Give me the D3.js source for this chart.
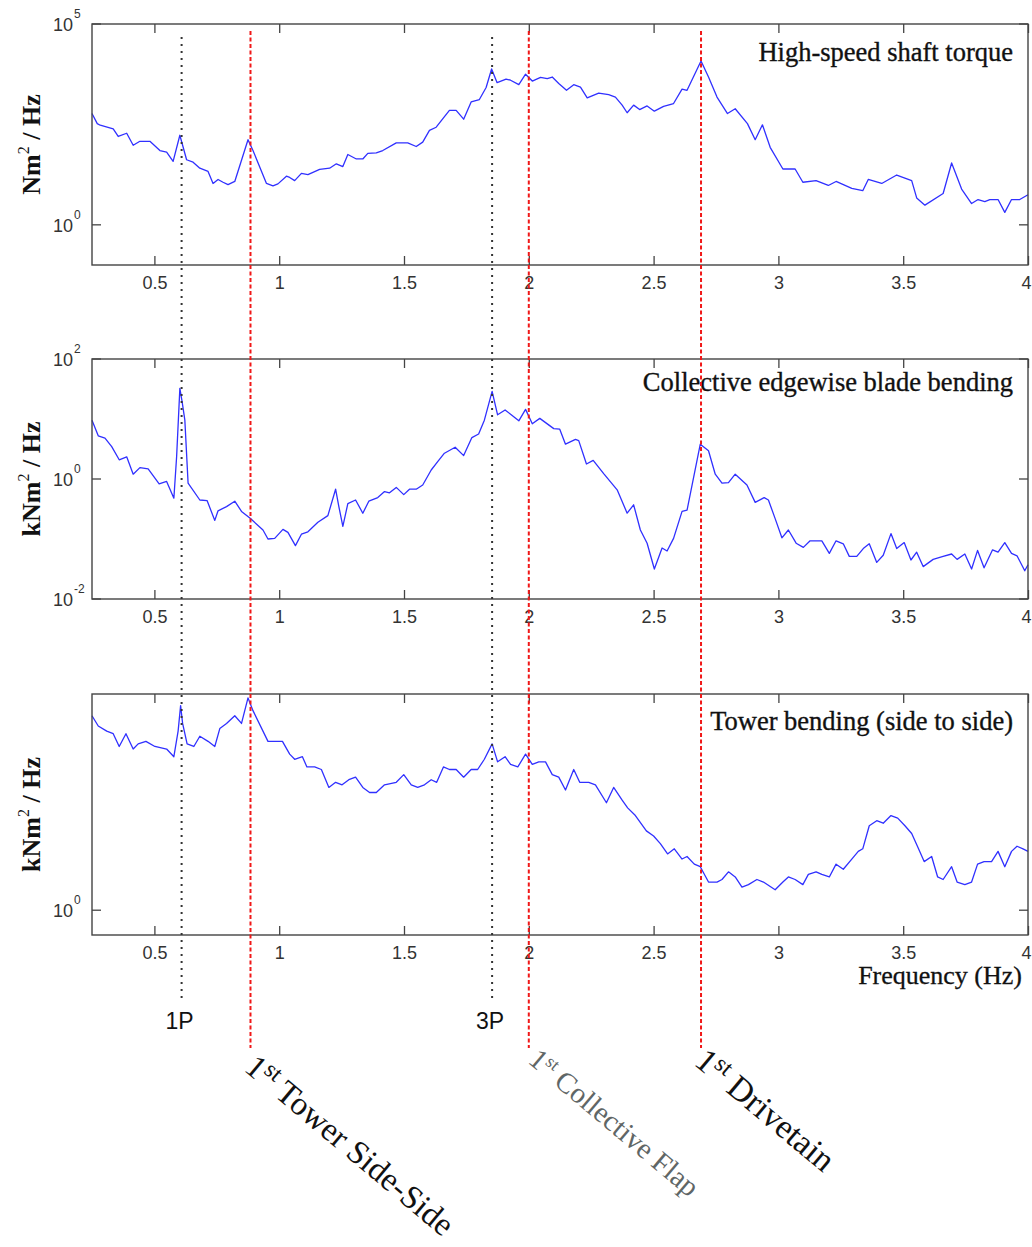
<!DOCTYPE html>
<html>
<head>
<meta charset="utf-8">
<script src="https://cdn.jsdelivr.net/npm/d3@7"></script>
<style>
  html, body { margin: 0; padding: 0; background: #fff; }
  svg { display: block; }
</style>
</head>
<body>
<svg id="chart" width="1032" height="1247"></svg>
<script>
// ---------- DATA ----------
// Panel 1: High-speed shaft torque, PSD (Nm^2/Hz), stored as log10 exponents
const torqueFreq = [0.25,0.271,0.283,0.335,0.355,0.389,0.415,0.442,0.482,0.522,0.549,0.575,0.602,0.629,0.655,0.682,0.715,0.735,0.755,0.775,0.795,0.822,0.875,0.895,0.949,0.975,0.995,1.029,1.042,1.062,1.089,1.115,1.162,1.202,1.229,1.255,1.275,1.309,1.335,1.355,1.389,1.415,1.469,1.515,1.549,1.575,1.602,1.629,1.655,1.682,1.709,1.739,1.769,1.802,1.829,1.851,1.873,1.909,1.927,1.96,1.987,2.014,2.047,2.074,2.094,2.12,2.151,2.18,2.207,2.234,2.28,2.32,2.347,2.374,2.394,2.42,2.444,2.474,2.503,2.54,2.58,2.614,2.634,2.69,2.72,2.754,2.796,2.827,2.876,2.907,2.936,2.967,3.018,3.067,3.098,3.151,3.2,3.231,3.294,3.338,3.36,3.414,3.474,3.534,3.554,3.587,3.66,3.694,3.734,3.774,3.8,3.827,3.847,3.88,3.907,3.934,3.967,4.0];
const torqueLog10 = [2.77,2.52,2.48,2.39,2.2,2.28,1.98,2.08,2.08,1.85,1.81,1.58,2.23,1.62,1.56,1.41,1.33,1.03,1.13,1.06,1.0,1.08,2.12,1.85,1.03,0.97,1.02,1.21,1.18,1.1,1.28,1.25,1.38,1.41,1.52,1.45,1.75,1.64,1.64,1.78,1.79,1.85,2.04,2.04,1.95,2.06,2.35,2.43,2.64,2.85,2.85,2.63,3.06,3.12,3.42,3.88,3.54,3.63,3.6,3.49,3.75,3.58,3.67,3.64,3.68,3.52,3.35,3.49,3.43,3.16,3.28,3.24,3.18,2.98,2.79,2.98,2.87,2.96,2.83,2.95,3.02,3.38,3.35,4.08,3.68,3.18,2.77,2.89,2.52,2.12,2.49,1.93,1.39,1.39,1.06,1.1,0.98,1.08,0.91,0.85,1.13,1.03,1.24,1.1,0.67,0.49,0.78,1.54,0.89,0.53,0.63,0.58,0.63,0.63,0.31,0.63,0.63,0.75];

// Panel 2: Collective edgewise blade bending (kNm^2/Hz), log10 exponents
const edgeFreq = [0.25,0.275,0.302,0.329,0.359,0.389,0.415,0.442,0.475,0.519,0.549,0.578,0.589,0.602,0.611,0.622,0.635,0.682,0.711,0.742,0.755,0.789,0.822,0.849,0.885,0.935,0.955,0.982,1.015,1.035,1.065,1.089,1.115,1.155,1.195,1.226,1.239,1.255,1.275,1.306,1.335,1.359,1.395,1.422,1.442,1.469,1.499,1.522,1.549,1.575,1.609,1.635,1.662,1.705,1.739,1.772,1.799,1.822,1.853,1.875,1.905,1.927,1.96,1.987,2.014,2.044,2.1,2.124,2.147,2.187,2.2,2.231,2.258,2.3,2.354,2.394,2.42,2.447,2.474,2.503,2.534,2.554,2.58,2.614,2.634,2.687,2.72,2.747,2.774,2.8,2.827,2.874,2.907,2.943,2.96,2.987,3.014,3.04,3.071,3.1,3.127,3.174,3.204,3.231,3.26,3.284,3.314,3.34,3.364,3.394,3.42,3.451,3.474,3.504,3.531,3.554,3.58,3.62,3.66,3.694,3.716,3.747,3.774,3.798,3.824,3.858,3.88,3.907,3.934,3.956,3.987,4.0];
const edgeLog10 = [0.98,0.72,0.68,0.54,0.32,0.37,0.08,0.19,0.17,-0.08,-0.04,-0.32,0.37,1.51,1.29,0.98,-0.07,-0.35,-0.36,-0.69,-0.53,-0.46,-0.37,-0.54,-0.66,-0.85,-1.0,-0.99,-0.84,-0.89,-1.11,-0.92,-0.88,-0.72,-0.61,-0.17,-0.46,-0.79,-0.41,-0.35,-0.57,-0.37,-0.31,-0.21,-0.23,-0.14,-0.26,-0.17,-0.17,-0.1,0.15,0.29,0.43,0.53,0.39,0.69,0.75,0.98,1.46,1.07,1.15,1.08,0.97,1.16,0.92,1.01,0.84,0.83,0.58,0.66,0.64,0.25,0.31,0.09,-0.18,-0.57,-0.43,-0.85,-1.07,-1.5,-1.15,-1.2,-0.99,-0.54,-0.52,0.58,0.47,0.08,-0.07,-0.06,0.08,-0.1,-0.39,-0.31,-0.35,-0.66,-0.98,-0.85,-1.07,-1.14,-1.03,-1.03,-1.24,-1.03,-1.08,-1.29,-1.29,-1.16,-1.08,-1.39,-1.27,-0.91,-1.16,-1.06,-1.35,-1.22,-1.46,-1.34,-1.29,-1.25,-1.34,-1.25,-1.5,-1.19,-1.48,-1.18,-1.22,-1.06,-1.24,-1.28,-1.53,-1.43];

// Panel 3: Tower bending side to side (kNm^2/Hz), log10 exponents
const towerFreq = [0.25,0.275,0.309,0.335,0.359,0.386,0.415,0.435,0.466,0.502,0.549,0.578,0.595,0.605,0.613,0.631,0.658,0.682,0.715,0.742,0.762,0.789,0.822,0.849,0.875,0.895,0.955,0.989,1.013,1.042,1.062,1.093,1.111,1.142,1.169,1.199,1.226,1.252,1.279,1.306,1.335,1.362,1.389,1.422,1.469,1.499,1.529,1.555,1.582,1.609,1.631,1.658,1.682,1.709,1.739,1.769,1.795,1.822,1.853,1.875,1.905,1.927,1.956,1.987,2.014,2.04,2.067,2.094,2.12,2.147,2.18,2.204,2.24,2.267,2.311,2.34,2.374,2.396,2.427,2.471,2.5,2.527,2.556,2.583,2.614,2.634,2.663,2.687,2.72,2.754,2.774,2.8,2.827,2.854,2.88,2.914,2.94,2.987,3.018,3.04,3.067,3.098,3.12,3.151,3.174,3.204,3.231,3.26,3.294,3.32,3.338,3.364,3.394,3.42,3.451,3.478,3.507,3.534,3.557,3.584,3.614,3.638,3.66,3.694,3.716,3.747,3.774,3.798,3.824,3.854,3.88,3.907,3.934,3.956,3.98,4.0];
const towerLog10 = [0.76,0.72,0.7,0.69,0.64,0.69,0.63,0.65,0.66,0.64,0.63,0.6,0.7,0.8,0.73,0.65,0.64,0.68,0.66,0.64,0.71,0.73,0.76,0.73,0.83,0.78,0.66,0.66,0.66,0.61,0.59,0.6,0.56,0.56,0.55,0.48,0.5,0.49,0.51,0.52,0.48,0.46,0.46,0.49,0.5,0.53,0.49,0.48,0.49,0.51,0.5,0.56,0.55,0.55,0.52,0.55,0.55,0.59,0.65,0.58,0.6,0.57,0.56,0.61,0.57,0.58,0.58,0.53,0.52,0.47,0.55,0.5,0.5,0.49,0.42,0.48,0.43,0.4,0.37,0.31,0.29,0.26,0.22,0.24,0.2,0.21,0.18,0.17,0.11,0.11,0.12,0.15,0.13,0.09,0.1,0.12,0.11,0.08,0.11,0.13,0.12,0.1,0.14,0.15,0.14,0.13,0.18,0.16,0.2,0.23,0.24,0.33,0.35,0.34,0.37,0.36,0.33,0.3,0.25,0.19,0.21,0.13,0.12,0.17,0.11,0.1,0.11,0.18,0.19,0.19,0.23,0.17,0.23,0.25,0.24,0.23];

const xTicks = [0.5, 1, 1.5, 2, 2.5, 3, 3.5, 4];
const panelTitles = ["High-speed shaft torque", "Collective edgewise blade bending", "Tower bending (side to side)"];
const yUnitPrefix = ["Nm", "kNm", "kNm"];
const yDomains = [[1e-1, 1e5], [1e-2, 1e2], [0.8, 7]];
const yTickExponents = [[5, 0], [2, 0, -2], [0]];

// Reference frequencies (Hz)
const rotorLines = [{f: 0.609, label: "1P"}, {f: 1.853, label: "3P"}];
const modeLines = [
  {f: 0.885, label: "Tower Side-Side"},
  {f: 2.0,   label: "Collective Flap"},
  {f: 2.69,  label: "Drivetain"}
];

// ---------- LAYOUT ----------
const svg = d3.select("#chart");
const X0 = 92, X1 = 1028;
const panelBoxes = [{top: 24, bottom: 265}, {top: 359, bottom: 599}, {top: 694, bottom: 935}];
const titleBaselines = [61, 391, 730];
const series = [
  d3.zip(torqueFreq, torqueLog10),
  d3.zip(edgeFreq, edgeLog10),
  d3.zip(towerFreq, towerLog10)
];

const x = d3.scaleLinear().domain([0.25, 4]).range([X0, X1]);
const SERIF = "'Liberation Serif', 'Times New Roman', serif";
const SANS = "'Liberation Sans', Arial, sans-serif";

svg.append("rect").attr("width", 1032).attr("height", 1247).attr("fill", "#fff");

panelBoxes.forEach((b, i) => {
  const y = d3.scaleLog().domain(yDomains[i]).range([b.bottom, b.top]);
  const g = svg.append("g");

  // data line
  const line = d3.line().x(d => x(d[0])).y(d => y(Math.pow(10, d[1])));
  g.append("path").datum(series[i])
    .attr("d", line).attr("fill", "none")
    .attr("stroke", "#3030ff").attr("stroke-width", 1.3)
    .attr("stroke-linejoin", "round");

  // bottom axis (inward ticks) with labels
  const bottomAx = d3.axisBottom(x).tickValues(xTicks).tickSize(-9).tickPadding(11)
    .tickFormat(d => String(d));
  const ga = g.append("g").attr("transform", `translate(0,${b.bottom})`).call(bottomAx);
  ga.select(".domain").remove();
  ga.selectAll("line").attr("stroke", "#444").attr("stroke-width", 1.3);
  ga.selectAll("text").attr("font-family", SANS).attr("font-size", 18).attr("fill", "#333");
  // keep the last label ("4") inside the picture, as in the reference
  ga.selectAll("text").filter(d => d === 4).attr("text-anchor", "end").attr("x", 3);

  // top axis ticks
  const gt = g.append("g").attr("transform", `translate(0,${b.top})`)
    .call(d3.axisTop(x).tickValues(xTicks).tickSize(-9).tickFormat(""));
  gt.select(".domain").remove();
  gt.selectAll("line").attr("stroke", "#444").attr("stroke-width", 1.3);

  // y ticks left and right (inward) and labels
  const exps = yTickExponents[i];
  exps.forEach(e => {
    const yy = y(Math.pow(10, e));
    g.append("line").attr("x1", X0).attr("x2", X0 + 9).attr("y1", yy).attr("y2", yy)
      .attr("stroke", "#444").attr("stroke-width", 1.3);
    g.append("line").attr("x1", X1).attr("x2", X1 - 9).attr("y1", yy).attr("y2", yy)
      .attr("stroke", "#444").attr("stroke-width", 1.3);
    g.append("text").attr("x", 73).attr("y", yy + 7).attr("text-anchor", "end")
      .attr("font-family", SANS).attr("font-size", 18).attr("fill", "#333").text("10");
    g.append("text").attr("x", 74).attr("y", yy - 6).attr("text-anchor", "start")
      .attr("font-family", SANS).attr("font-size", 12).attr("fill", "#333").text(String(e));
  });

  // box
  g.append("rect").attr("x", X0).attr("y", b.top).attr("width", X1 - X0).attr("height", b.bottom - b.top)
    .attr("fill", "none").attr("stroke", "#444").attr("stroke-width", 1.4);

  // title
  g.append("text").attr("x", 1013).attr("y", titleBaselines[i]).attr("text-anchor", "end")
    .attr("font-family", SERIF).attr("font-size", 26.5).attr("fill", "#111")
    .attr("stroke", "#111").attr("stroke-width", 0.35).text(panelTitles[i]);

  // y label
  const cy = (b.top + b.bottom) / 2;
  const yl = g.append("text").attr("transform", `translate(40,${cy}) rotate(-90)`)
    .attr("text-anchor", "middle").attr("font-family", SERIF).attr("font-weight", "bold")
    .attr("font-size", 26).attr("fill", "#111");
  yl.append("tspan").text(yUnitPrefix[i]);
  yl.append("tspan").attr("dy", -11).attr("font-size", 16).attr("font-weight", "normal").text("2");
  yl.append("tspan").attr("dy", 11).text(" / Hz");
});

// x axis title
svg.append("text").attr("x", 1022).attr("y", 984).attr("text-anchor", "end")
  .attr("font-family", SERIF).attr("font-size", 26).attr("fill", "#111")
  .attr("stroke", "#111").attr("stroke-width", 0.3).text("Frequency (Hz)");

// rotor harmonics (black dotted)
rotorLines.forEach(r => {
  svg.append("line").attr("x1", x(r.f)).attr("x2", x(r.f)).attr("y1", 37).attr("y2", 1000)
    .attr("stroke", "#333").attr("stroke-width", 2).attr("stroke-dasharray", "2,5");
  svg.append("text").attr("x", x(r.f) - 2).attr("y", 1029).attr("text-anchor", "middle")
    .attr("font-family", SANS).attr("font-size", 23).attr("fill", "#111").text(r.label);
});

// structural modes (red dashed)
const modeStyles = [
  {px: 243, py: 1070, size: 33, sup: 24, dy: 11, fill: "#111"},
  {px: 527, py: 1062, size: 29, sup: 18, dy: 10, fill: "#5f6666"},
  {px: 693, py: 1064, size: 34, sup: 24, dy: 11, fill: "#111"}
];
modeLines.forEach((m, i) => {
  svg.append("line").attr("x1", x(m.f)).attr("x2", x(m.f)).attr("y1", 31).attr("y2", 1048)
    .attr("stroke", "#f01818").attr("stroke-width", 2).attr("stroke-dasharray", "4,2.5");
  const s = modeStyles[i];
  const t = svg.append("text").attr("transform", `translate(${s.px},${s.py}) rotate(40)`)
    .attr("font-family", SERIF).attr("font-size", s.size).attr("fill", s.fill);
  t.append("tspan").text("1");
  t.append("tspan").attr("dy", -s.dy).attr("font-size", s.sup).text("st");
  t.append("tspan").attr("dy", s.dy).text(" " + m.label);
});
</script>
</body>
</html>
